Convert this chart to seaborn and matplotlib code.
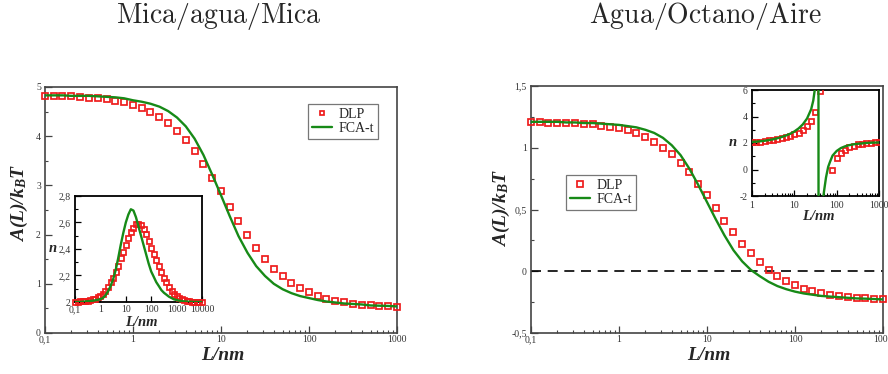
import numpy as np
import pandas as pd
import matplotlib
matplotlib.use("Agg")
import matplotlib.pyplot as plt
import seaborn as sns
from matplotlib.ticker import LogLocator, NullFormatter, MultipleLocator

# ---------------- data ----------------
L_main = [0.1, 0.126, 0.158, 0.2, 0.251, 0.316, 0.398, 0.501, 0.631, 0.794,
          1, 1.26, 1.58, 2, 2.51, 3.16, 3.98, 5.01, 6.31, 7.94,
          10, 12.6, 15.8, 20, 25.1, 31.6, 39.8, 50.1, 63.1, 79.4,
          100, 126, 158, 200, 251, 316, 398, 501, 631, 794, 1000]

mica_dlp = [4.82, 4.82, 4.81, 4.81, 4.80, 4.78, 4.77, 4.76, 4.72, 4.69,
            4.64, 4.58, 4.50, 4.40, 4.27, 4.11, 3.92, 3.69, 3.44, 3.16,
            2.88, 2.57, 2.28, 2.00, 1.73, 1.51, 1.31, 1.15, 1.02, 0.91,
            0.83, 0.76, 0.70, 0.65, 0.62, 0.59, 0.57, 0.56, 0.55, 0.54, 0.53]
mica_fca = [4.83, 4.83, 4.83, 4.82, 4.82, 4.82, 4.81, 4.80, 4.79, 4.77,
            4.73, 4.70, 4.66, 4.60, 4.51, 4.38, 4.20, 3.95, 3.62, 3.22,
            2.80, 2.37, 1.97, 1.63, 1.36, 1.16, 1.00, 0.89, 0.81, 0.75,
            0.71, 0.67, 0.64, 0.62, 0.60, 0.59, 0.58, 0.56, 0.555, 0.55, 0.54]

aire_dlp = [1.206, 1.206, 1.203, 1.20, 1.20, 1.198, 1.195, 1.19, 1.18, 1.17,
            1.157, 1.14, 1.12, 1.087, 1.05, 1.00, 0.946, 0.88, 0.80, 0.71,
            0.615, 0.515, 0.41, 0.314, 0.222, 0.144, 0.073, 0.011, -0.041, -0.081,
            -0.114, -0.141, -0.163, -0.179, -0.192, -0.203, -0.211, -0.217, -0.22, -0.225, -0.225]
aire_fca = [1.21, 1.21, 1.21, 1.21, 1.205, 1.205, 1.20, 1.20, 1.195, 1.19,
            1.185, 1.175, 1.165, 1.145, 1.12, 1.08, 1.02, 0.94, 0.83, 0.70,
            0.56, 0.42, 0.29, 0.17, 0.08, 0.01, -0.04, -0.085, -0.12, -0.145,
            -0.165, -0.18, -0.19, -0.20, -0.205, -0.21, -0.215, -0.22, -0.222, -0.225, -0.228]

L_inset_mica = [0.1, 0.126, 0.158, 0.2, 0.251, 0.316, 0.398, 0.501, 0.631, 0.794,
                1, 1.26, 1.58, 2, 2.51, 3.16, 3.98, 5.01, 6.31, 7.94,
                10, 12.6, 15.8, 20, 25.1, 31.6, 39.8, 50.1, 63.1, 79.4,
                100, 126, 158, 200, 251, 316, 398, 501, 631, 794,
                1000, 1260, 1580, 2000, 2510, 3160, 3980, 5010, 6310, 7940, 10000]
n_mica_dlp = [2.00, 2.00, 2.005, 2.005, 2.01, 2.01, 2.015, 2.02, 2.025, 2.035,
              2.045, 2.06, 2.08, 2.11, 2.15, 2.18, 2.23, 2.27, 2.33, 2.38,
              2.43, 2.48, 2.53, 2.56, 2.59, 2.59, 2.58, 2.55, 2.51, 2.46,
              2.41, 2.36, 2.32, 2.27, 2.23, 2.18, 2.15, 2.11, 2.085, 2.06,
              2.045, 2.03, 2.02, 2.012, 2.008, 2.005, 2.003, 2.002, 2.001, 2.0, 2.0]
n_mica_fca = [2.00, 2.00, 2.00, 2.002, 2.004, 2.006, 2.008, 2.01, 2.013, 2.017,
              2.022, 2.03, 2.05, 2.08, 2.12, 2.17, 2.24, 2.33, 2.43, 2.52,
              2.60, 2.66, 2.70, 2.69, 2.64, 2.57, 2.50, 2.43, 2.36, 2.29,
              2.23, 2.19, 2.15, 2.12, 2.09, 2.07, 2.055, 2.04, 2.03, 2.02,
              2.015, 2.01, 2.007, 2.005, 2.003, 2.002, 2.001, 2.0, 2.0, 2.0, 2.0]

L_inset_aire = [1, 1.26, 1.58, 2, 2.51, 3.16, 3.98, 5.01, 6.31, 7.94,
                10, 12.6, 15.8, 20, 25.1, 31.6, 39.8, 50.1, 63.1, 79.4,
                100, 126, 158, 200, 251, 316, 398, 501, 631, 794, 1000]
n_aire_dlp = [2.05, 2.08, 2.10, 2.15, 2.20, 2.25, 2.33, 2.41, 2.48, 2.56,
              2.66, 2.78, 2.96, 3.27, 3.65, 4.33, 5.9, 40.0, -8.0, 0.0,
              0.84, 1.24, 1.49, 1.67, 1.80, 1.90, 1.95, 2.00, 2.02, 2.05, 2.05]
L_fca_aire = [1, 1.26, 1.58, 2, 2.5, 3.16, 4, 5, 6.3, 8, 10, 12.6, 15.8, 20, 25,
              28, 31.6, 35, 37, 37.5, 40, 45, 50, 56, 63, 70, 80, 100, 126, 158,
              200, 251, 316, 398, 501, 631, 794, 1000]
n_aire_fca = [2.08, 2.10, 2.13, 2.17, 2.22, 2.28, 2.36, 2.45, 2.56, 2.70, 2.87,
              3.10, 3.40, 3.85, 4.55, 5.2, 6.4, 9.0, 20.0, -20.0, -9.0, -3.0,
              -1.7, -0.6, 0.2, 0.6, 1.05, 1.4, 1.62, 1.75, 1.84, 1.90, 1.94,
              1.97, 2.00, 2.02, 2.03, 2.04]

titles = ["Mica/agua/Mica", "Agua/Octano/Aire"]
legend_labels = ["DLP", "FCA-t"]
x_main_ticks = [0.1, 1, 10, 100, 1000]
x_main_labels = ["0,1", "1", "10", "100", "1000"]
y_mica_ticks = [0, 1, 2, 3, 4, 5]
y_mica_labels = ["0", "1", "2", "3", "4", "5"]
y_aire_ticks = [-0.5, 0, 0.5, 1, 1.5]
y_aire_labels = ["-0,5", "0", "0,5", "1", "1,5"]
x_in1_ticks = [0.1, 1, 10, 100, 1000, 10000]
x_in1_labels = ["0,1", "1", "10", "100", "1000", "10000"]
y_in1_ticks = [2.0, 2.2, 2.4, 2.6, 2.8]
y_in1_labels = ["2", "2,2", "2,4", "2,6", "2,8"]
x_in2_ticks = [1, 10, 100, 1000]
x_in2_labels = ["1", "10", "100", "1000"]
y_in2_ticks = [-2, 0, 2, 4, 6]
y_in2_labels = ["-2", "0", "2", "4", "6"]

# ---------------- style ----------------
sns.set_style("ticks")
plt.rcParams["font.family"] = ["Liberation Serif", "DejaVu Serif"]
plt.rcParams["mathtext.fontset"] = "custom"
plt.rcParams["mathtext.rm"] = "Liberation Serif"
plt.rcParams["mathtext.it"] = "Liberation Serif:italic"
plt.rcParams["mathtext.bf"] = "Liberation Serif:italic:bold"

RED = "#ee1c1c"
GREEN = "#178a17"
W, H = 888, 374

fig = plt.figure(figsize=(8.88, 3.74), dpi=100)


def px_axes(x0, y0, x1, y1, z=1):
    return fig.add_axes([x0 / W, 1 - y1 / H, (x1 - x0) / W, (y1 - y0) / H], zorder=z)


def style(ax, lw, color, xpad=1.5, ypad=3):
    for s in ax.spines.values():
        s.set_visible(True)
        s.set_linewidth(lw)
        s.set_color(color)
    ax.tick_params(which="both", direction="in", top=False, right=False,
                   labelsize=7, labelcolor="#333333", color=color)
    ax.tick_params(which="major", length=5, width=0.9)
    ax.tick_params(which="minor", length=2.5, width=0.8)
    ax.tick_params(axis="x", pad=xpad)
    ax.tick_params(axis="y", pad=ypad)
    ax.set_xlabel("")
    ax.set_ylabel("")


def draw(ax, x, y, xf, yf, clip_sq=False, ms=3.8):
    ax.set_xscale("log")
    sns.lineplot(x=x, y=y, ax=ax, marker="s", linestyle="none", markersize=ms,
                 markeredgewidth=1.25, markerfacecolor="none", markeredgecolor=RED,
                 color=RED, clip_on=clip_sq, zorder=3, label=legend_labels[0],
                 legend=False, sort=False)
    sns.lineplot(x=xf, y=yf, ax=ax, color=GREEN, linewidth=1.7, zorder=4,
                 label=legend_labels[1], legend=False, sort=False)


def add_legend(ax, x0, y0, mscale):
    h = [l for l in ax.get_lines() if l.get_label() in legend_labels]
    leg = ax.legend(handles=h[:2], labels=legend_labels, loc="upper left",
                    bbox_to_anchor=(x0 / W, 1 - y0 / H), bbox_transform=fig.transFigure,
                    borderaxespad=0, frameon=True, fancybox=False, fontsize=10,
                    handlelength=1.4, handletextpad=0.5, borderpad=0.3,
                    labelspacing=0.05, markerscale=mscale)
    leg.get_frame().set_edgecolor("#555555")
    leg.get_frame().set_linewidth(0.9)


# ---- left main ----
ax1 = px_axes(45, 87, 397, 333)
draw(ax1, L_main, mica_dlp, L_main, mica_fca, clip_sq=False)
ax1.set_xlim(0.1, 1000)
ax1.set_ylim(0, 5)
ax1.set_xticks(x_main_ticks, x_main_labels)
ax1.set_yticks(y_mica_ticks, y_mica_labels)
ax1.xaxis.set_minor_locator(LogLocator(base=10, subs=np.arange(2, 10)))
ax1.xaxis.set_minor_formatter(NullFormatter())
ax1.yaxis.set_minor_locator(MultipleLocator(0.5))
style(ax1, 1.2, "#444444")
add_legend(ax1, 308, 104, 0.8)

# ---- right main ----
ax2 = px_axes(531, 86, 883, 333)
ax2.axhline(0, color="black", linewidth=1.2, linestyle=(0, (6, 4)), zorder=1)
draw(ax2, L_main, aire_dlp, L_main, aire_fca, clip_sq=False)
ax2.set_xlim(0.1, 1000)
ax2.set_ylim(-0.5, 1.5)
ax2.set_xticks(x_main_ticks, x_main_labels)
ax2.set_yticks(y_aire_ticks, y_aire_labels)
ax2.xaxis.set_minor_locator(LogLocator(base=10, subs=np.arange(2, 10)))
ax2.xaxis.set_minor_formatter(NullFormatter())
ax2.yaxis.set_minor_locator(MultipleLocator(0.25))
style(ax2, 1.2, "#444444")
add_legend(ax2, 566, 175, 1.0)

# ---- left inset ----
ai1 = px_axes(75, 196, 202, 302, z=5)
draw(ai1, L_inset_mica, n_mica_dlp, L_inset_mica, n_mica_fca, clip_sq=False, ms=3.6)
ai1.set_xlim(0.1, 10000)
ai1.set_ylim(2.0, 2.8)
ai1.set_xticks(x_in1_ticks, x_in1_labels)
ai1.set_yticks(y_in1_ticks, y_in1_labels)
ai1.xaxis.set_minor_locator(LogLocator(base=10, subs=np.arange(2, 10)))
ai1.xaxis.set_minor_formatter(NullFormatter())
ai1.yaxis.set_minor_locator(MultipleLocator(0.1))
style(ai1, 1.3, "black", xpad=2.5, ypad=3)
ai1.tick_params(which="major", length=4)
ai1.tick_params(which="minor", length=2)

# ---- right inset ----
ai2 = px_axes(752, 90, 879, 196, z=5)
draw(ai2, L_inset_aire, n_aire_dlp, L_fca_aire, n_aire_fca, clip_sq=True, ms=3.6)
ai2.set_xlim(1, 1000)
ai2.set_ylim(-2, 6)
ai2.set_xticks(x_in2_ticks, x_in2_labels)
ai2.set_yticks(y_in2_ticks, y_in2_labels)
ai2.xaxis.set_minor_locator(LogLocator(base=10, subs=np.arange(2, 10)))
ai2.xaxis.set_minor_formatter(NullFormatter())
ai2.yaxis.set_minor_locator(MultipleLocator(1))
style(ai2, 1.3, "black", xpad=3.5, ypad=3)
ai2.tick_params(which="major", length=4)
ai2.tick_params(which="minor", length=2)

# ---------------- texts ----------------
fig.text(219 / W, 1 - 23.5 / H, r"$\mathrm{" + titles[0] + "}$", ha="center",
         va="baseline", fontsize=20, math_fontfamily="cm")
fig.text(705 / W, 1 - 23.5 / H, r"$\mathrm{" + titles[1] + "}$", ha="center",
         va="baseline", fontsize=20, math_fontfamily="cm")

ylab = r"$\mathbf{A(L)/k_{B}T}$"
fig.text(19 / W, 1 - 203 / H, ylab, rotation=90, ha="center", va="center", fontsize=14)
fig.text(501 / W, 1 - 208 / H, ylab, rotation=90, ha="center", va="center", fontsize=14)

bi = dict(fontweight="bold", fontstyle="italic", family="Liberation Serif")
fig.text(223 / W, 1 - 356 / H, "L/nm", ha="center", va="center", fontsize=14, **bi)
fig.text(709 / W, 1 - 356 / H, "L/nm", ha="center", va="center", fontsize=14, **bi)
fig.text(141 / W, 1 - 322 / H, "L/nm", ha="center", va="center", fontsize=10.5, **bi)
fig.text(818 / W, 1 - 216 / H, "L/nm", ha="center", va="center", fontsize=10.5, **bi)
fig.text(53 / W, 1 - 248 / H, "n", ha="center", va="center", fontsize=10.5, **bi)
fig.text(733 / W, 1 - 143 / H, "n", ha="center", va="center", fontsize=10.5, **bi)

fig.savefig("out.png", dpi=100)
